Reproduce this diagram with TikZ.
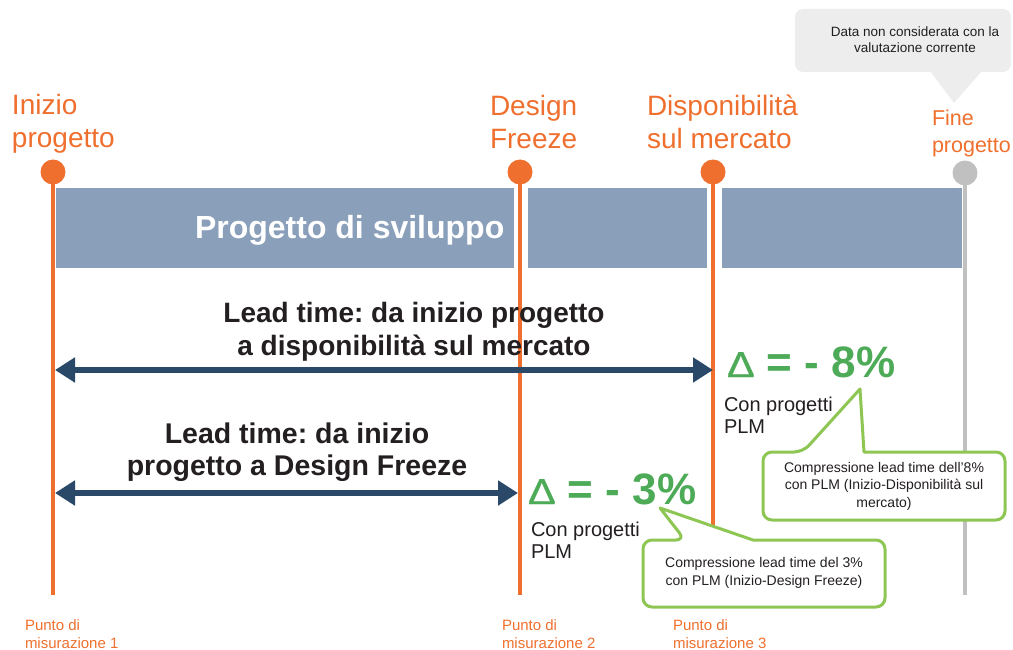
\documentclass[tikz,border=0pt]{standalone}
\usepackage{fontspec}
\usepackage{graphicx}
\setmainfont{Liberation Sans}
\newfontfamily\deltafont[FakeBold=1]{Liberation Sans}
\usetikzlibrary{arrows.meta}
\frenchspacing

\definecolor{mkorange}{HTML}{EF6F2E}
\definecolor{mkgray}{HTML}{C0C0C0}
\definecolor{band}{HTML}{8A9FBA}
\definecolor{navy}{HTML}{2A4868}
\definecolor{pctgreen}{HTML}{4DAA57}
\definecolor{callgreen}{HTML}{8DC653}
\definecolor{ink}{HTML}{231F20}
\definecolor{notefill}{HTML}{EDEDED}

\newcommand\fs[2]{\fontsize{#1}{#2}\selectfont}
\newcommand\deltasign{\scalebox{1.15}[1]{\deltafont\mdseries\fs{36}{36}Δ}}

\begin{document}
\begin{tikzpicture}[x=1pt,y=-1pt,
  every node/.style={inner sep=0pt, outer sep=0pt},
  milestone/.style={circle, fill=mkorange, minimum size=25pt, inner sep=0pt},
  endpoint/.style={circle, fill=mkgray, minimum size=25pt, inner sep=0pt},
  stem/.style={draw=mkorange, line width=4.5pt},
  graystem/.style={draw=mkgray, line width=4.5pt},
  phase/.style={fill=band},
  pointlabel/.style={text=mkorange, align=left, font=\fs{28}{33}, anchor=base west},
  measure/.style={text=mkorange, align=left, font=\fs{15}{18}, anchor=base west},
  leadtext/.style={text=ink, align=center, anchor=base},
  leadarrow/.style={draw=navy, line width=6.5pt,
    {Triangle[length=20pt,width=24pt]}-{Triangle[length=20pt,width=24pt]}},
  delta/.style={text=pctgreen, font=\bfseries\fs{44}{44}, anchor=base west},
  plm/.style={text=ink, align=left, font=\fs{20}{22}, anchor=base west},
  callout/.style={draw=callgreen, line width=3pt, fill=white, rounded corners=9pt, line join=round},
  callouttext/.style={text=ink, align=center, font=\fs{14}{17.5}, anchor=base},
]
\useasboundingbox (0,0) rectangle (1013,650);

% grey note at the top right (multi-line nodes sit on their last baseline)
\fill[notefill, rounded corners=8pt] (795,9) rectangle (1011,72);
\fill[notefill] (930,71) -- (954,103) -- (982,71) -- cycle;
\node[callouttext, font=\fs{13.5}{16}] (note) at (915,53)
  {Data non considerata con la\\valutazione corrente};

% milestone labels
\node[pointlabel] (lstart) at (12,148) {Inizio\\progetto};
\node[pointlabel] (ldf) at (490,149) {Design\\Freeze};
\node[pointlabel] (lmkt) at (647,149) {Disponibilità\\sul mercato};
\node[pointlabel, font=\fs{21.5}{27}] (lend) at (932,153) {Fine\\progetto};

% project phase band
\fill[phase] (56,188) rectangle (514,268);
\fill[phase] (528,188) rectangle (707,268);
\fill[phase] (722,188) rectangle (962,268);
\node[anchor=base west, text=white, font=\bfseries\fs{32}{32}] (band) at (195,239)
  {Progetto di sviluppo};

% milestones and their stems
\node[milestone] (m1) at (53,172) {};
\node[milestone] (m2) at (520,172) {};
\node[milestone] (m3) at (713,172) {};
\node[endpoint] (m4) at (965,173) {};
\coordinate (b1) at (53,595);
\coordinate (b2) at (520,595);
\coordinate (b3) at (713,595);
\coordinate (b4) at (965,595);
\draw[stem] (m1.south) -- (b1);
\draw[stem] (m2.south) -- (b2);
\draw[stem] (m3.south) -- (b3);
\draw[graystem] (m4.south) -- (b4);

% lead time spans
\node[leadtext, font=\bfseries\fs{28}{33}] (lt1) at (414,355)
  {Lead time: da inizio progetto\\a disponibilità sul mercato};
\coordinate (a1s) at (55,370);
\coordinate (a1e) at (713,370);
\draw[leadarrow] (a1s) -- (a1e);

\node[leadtext, font=\bfseries\fs{28.5}{32}] (lt2) at (297,475)
  {Lead time: da inizio\\progetto a Design Freeze};
\coordinate (a2s) at (55,493);
\coordinate (a2e) at (518,493);
\draw[leadarrow] (a2s) -- (a2e);

% results
\node[delta] (d8) at (727,377) {\deltasign{} = - 8\%};
\node[plm] (p8) at (724,433) {Con progetti\\PLM};
\node[delta] (d3) at (528,504) {\deltasign{} = - 3\%};
\node[plm] (p3) at (531,558) {Con progetti\\PLM};

% callouts
\draw[callout] (884,520) -- (763,520) -- (763,452) -- (803,452) [sharp corners]
  -- (860,389) -- (864,452) [rounded corners=9pt] -- (1005,452) -- (1005,520) -- cycle;
\node[callouttext] (c8) at (884,507)
  {Compressione lead time dell'8\%\\con PLM (Inizio-Disponibilità sul\\mercato)};

\draw[callout] (764,607) -- (643,607) -- (643,540) -- (685,540) [sharp corners]
  -- (660,508) -- (753,540) [rounded corners=9pt] -- (885,540) -- (885,607) -- cycle;
\node[callouttext] (c3) at (764,585)
  {Compressione lead time del 3\%\\con PLM (Inizio-Design Freeze)};

% measurement points
\node[measure] (pm1) at (25,648) {Punto di\\misurazione 1};
\node[measure] (pm2) at (502,648) {Punto di\\misurazione 2};
\node[measure] (pm3) at (673,648) {Punto di\\misurazione 3};
\end{tikzpicture}
\end{document}
